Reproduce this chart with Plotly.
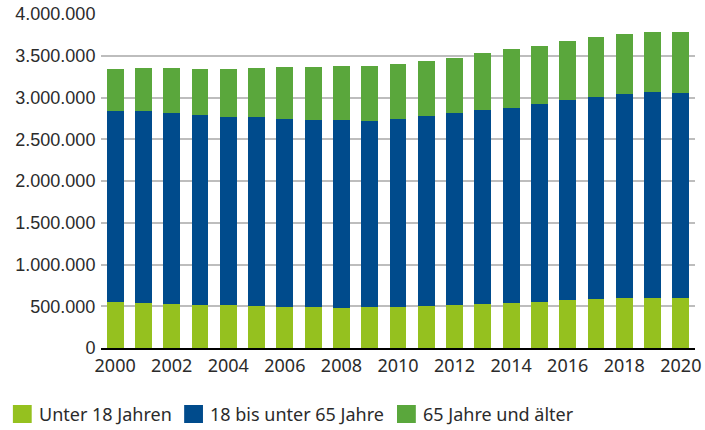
import plotly.graph_objects as go

years = list(range(2000, 2021))
# cumulative tops (in persons)
under18 = [555000, 543000, 531000, 519000, 519000, 507000, 495000, 495000, 483000, 495000,
           495000, 507000, 519000, 531000, 543000, 555000, 579000, 591000, 603000, 603000, 603000]
top_working = [2844000, 2844000, 2820000, 2796000, 2772000, 2772000, 2748000, 2736000, 2736000, 2724000,
               2748000, 2784000, 2820000, 2856000, 2880000, 2928000, 2976000, 3012000, 3036000, 3060000, 3048000]
total = [3336000, 3348000, 3348000, 3336000, 3336000, 3348000, 3360000, 3360000, 3372000, 3372000,
         3396000, 3432000, 3468000, 3528000, 3576000, 3612000, 3671000, 3719000, 3755000, 3779000, 3779000]
working = [t - u for t, u in zip(top_working, under18)]
elderly = [t - w for t, w in zip(total, top_working)]

names = ["Unter 18 Jahren", "18 bis unter 65 Jahre", "65 Jahre und älter"]
colors = ["#95c11f", "#004b8c", "#5aa73c"]
series = [under18, working, elderly]
ytick_vals = [0, 500000, 1000000, 1500000, 2000000, 2500000, 3000000, 3500000, 4000000]
xtick_vals = list(range(2000, 2021, 2))

YFONT = "Liberation Sans"
XFONT = "Noto Sans"
TXT = "#2b2b2b"

L, T, PW, PH = 101, 14, 600, 334

fig = go.Figure()
for n, c, s in zip(names, colors, series):
    fig.add_trace(go.Bar(x=years, y=s, name=n, marker=dict(color=c, line=dict(width=0)),
                         showlegend=False))

fig.update_layout(
    barmode="stack", bargap=0.4,
    width=705, height=430,
    margin=dict(l=L, r=705 - L - PW, t=T, b=430 - T - PH),
    paper_bgcolor="white", plot_bgcolor="white",
    separators=",.",
    font=dict(family=XFONT, size=18, color=TXT),
    xaxis=dict(range=[1999.5, 2020.5], tickvals=xtick_vals, showgrid=False,
               showline=True, linecolor="#000000", linewidth=1.5,
               ticks="outside", ticklen=1, tickcolor="rgba(0,0,0,0)",
               ticklabeloverflow="allow",
               tickfont=dict(family=XFONT, size=18, color=TXT)),
    yaxis=dict(range=[0, 4000000], tickvals=ytick_vals, tickformat=",d",
               showgrid=True, gridcolor="#bdbdbd", gridwidth=1.5, zeroline=False,
               ticks="outside", ticklen=1, tickcolor="rgba(0,0,0,0)",
               tickfont=dict(family=YFONT, size=18, color=TXT)),
)


def py(pix):
    return (T + PH - pix) / PH


def px(pix):
    return (pix - L) / PW


# manual legend with large square swatches
legend_x = [12, 185, 400]
for n, c, lx in zip(names, colors, legend_x):
    fig.add_shape(type="rect", xref="paper", yref="paper",
                  x0=px(lx), x1=px(lx + 19), y0=py(423), y1=py(405),
                  fillcolor=c, line=dict(width=0))
    fig.add_annotation(text=n, xref="paper", yref="paper",
                       x=px(lx + 24), y=py(414),
                       xanchor="left", yanchor="middle", showarrow=False,
                       font=dict(family=XFONT, size=18, color=TXT))

fig.write_html("out.html", config={"displayModeBar": False},
               post_script="document.body.style.margin='0';")
